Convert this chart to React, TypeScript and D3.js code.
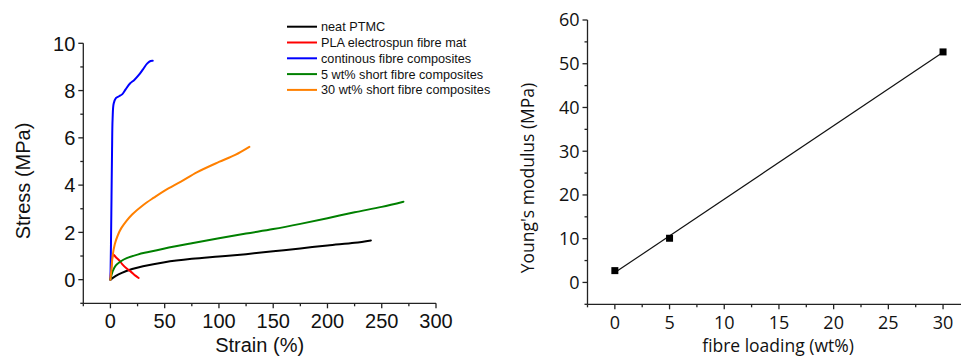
import React from "react";
import * as d3 from "d3";

// stress-strain curves, [strain %, stress MPa]
const neatPTMC = [
  [0, 0], [5, 0.16], [10, 0.28], [20, 0.45], [30, 0.57], [50, 0.74], [75, 0.88],
  [100, 0.98], [125, 1.08], [150, 1.2], [175, 1.32], [200, 1.45], [225, 1.56], [240, 1.66],
];
const plaMat = [
  [0, 0], [1, 0.6], [2, 1.0], [3, 1.05], [5, 0.95], [8, 0.82], [11, 0.65],
  [15, 0.47], [19, 0.33], [23, 0.17], [26, 0.07],
];
const continuous = [
  [0, 0], [0.5, 1.5], [1, 3.5], [1.5, 5.5], [2, 6.8], [3, 7.45], [5, 7.68], [8, 7.76],
  [11, 7.85], [14, 8.05], [18, 8.3], [22, 8.45], [26, 8.65], [30, 8.9], [34, 9.15],
  [37, 9.25], [39, 9.26],
];
const short5 = [
  [0, 0], [2, 0.35], [5, 0.6], [10, 0.79], [15, 0.91], [25, 1.06], [35, 1.17], [50, 1.32],
  [75, 1.54], [100, 1.75], [125, 1.95], [150, 2.14], [175, 2.36], [200, 2.6], [225, 2.85],
  [250, 3.08], [270, 3.3],
];
const short30 = [
  [0, 0], [1, 0.5], [2, 1.0], [4, 1.5], [7, 1.9], [10, 2.18], [15, 2.5], [20, 2.76],
  [30, 3.15], [40, 3.47], [50, 3.77], [65, 4.15], [80, 4.55], [100, 4.98], [115, 5.28],
  [128, 5.62],
];

const seriesNames = [
  "neat PTMC",
  "PLA electrospun fibre mat",
  "continous fibre composites",
  "5 wt% short fibre composites",
  "30 wt% short fibre composites",
];
const seriesColors = ["#000000", "#ff0000", "#0000ff", "#008000", "#ff8000"];
const seriesData = [neatPTMC, plaMat, continuous, short5, short30];

const strainTicks = [0, 50, 100, 150, 200, 250, 300];
const strainMinor = [-25, 25, 75, 125, 175, 225, 275];
const stressTicks = [0, 2, 4, 6, 8, 10];
const stressMinor = [-1, 1, 3, 5, 7, 9];

// modulus vs loading
const loading = [0, 5, 30];
const modulus = [2.7, 10.1, 52.7];
const loadingTicks = [0, 5, 10, 15, 20, 25, 30];
const loadingMinor = [-2.5, 2.5, 7.5, 12.5, 17.5, 22.5, 27.5, 32.5];
const modulusTicks = [0, 10, 20, 30, 40, 50, 60];
const modulusMinor = [-5, 5, 15, 25, 35, 45, 55];

const axisColor = "#222";

export default function App() {
  // left panel
  const x1 = d3.scaleLinear().domain([-25, 300]).range([83.3, 436]);
  const y1 = d3.scaleLinear().domain([-1, 10]).range([303.3, 43.3]);
  const line1 = d3
    .line<number[]>()
    .x((d) => x1(d[0]))
    .y((d) => y1(d[1]))
    .curve(d3.curveCatmullRom.alpha(0.5));

  // right panel
  const x2 = d3.scaleLinear().domain([-2.5, 32.5]).range([587.5, 970.4]);
  const y2 = d3.scaleLinear().domain([-5, 60]).range([304.3, 20]);

  // least squares fit line
  const mx = d3.mean(loading)!;
  const my = d3.mean(modulus)!;
  const sxy = d3.sum(loading, (v, i) => (v - mx) * (modulus[i] - my));
  const sxx = d3.sum(loading, (v) => (v - mx) * (v - mx));
  const slope = sxy / sxx;
  const icpt = my - slope * mx;
  const fit = [0, 30].map((v) => [v, icpt + slope * v]);

  const leftFont = "'Liberation Sans', Arial, sans-serif";
  const rightFont = "'Open Sans', sans-serif";

  return (
    <svg
      width={961}
      height={360}
      style={{ position: "absolute", left: 0, top: 0, background: "#fff" }}
    >
      {/* ---------- left panel ---------- */}
      <g stroke={axisColor} strokeWidth={1.3} fill="none">
        <line x1={x1(-25)} x2={x1(-25)} y1={y1(10)} y2={y1(-1)} />
        <line x1={x1(-25)} x2={x1(300)} y1={y1(-1)} y2={y1(-1)} />
        {stressTicks.map((t) => (
          <line key={"ys" + t} x1={x1(-25) - 5} x2={x1(-25)} y1={y1(t)} y2={y1(t)} />
        ))}
        {stressMinor.map((t) => (
          <line key={"ym" + t} x1={x1(-25) - 3} x2={x1(-25)} y1={y1(t)} y2={y1(t)} />
        ))}
        {strainTicks.map((t) => (
          <line key={"xs" + t} x1={x1(t)} x2={x1(t)} y1={y1(-1)} y2={y1(-1) + 5} />
        ))}
        {strainMinor.map((t) => (
          <line key={"xm" + t} x1={x1(t)} x2={x1(t)} y1={y1(-1)} y2={y1(-1) + 3} />
        ))}
      </g>
      <g fontFamily={leftFont} fontSize={20} fill="#111">
        {stressTicks.map((t) => (
          <text key={t} x={x1(-25) - 8} y={y1(t)} dy="0.36em" textAnchor="end">
            {t}
          </text>
        ))}
        {strainTicks.map((t) => (
          <text key={t} x={x1(t)} y={328} textAnchor="middle">
            {t}
          </text>
        ))}
        <text x={(x1(-25) + x1(300)) / 2} y={352} textAnchor="middle">
          Strain (%)
        </text>
        <text transform="translate(30,181) rotate(-90)" textAnchor="middle">
          Stress (MPa)
        </text>
      </g>
      <g fill="none" strokeWidth={2} strokeLinejoin="round" strokeLinecap="round">
        {seriesData.map((s, i) => (
          <path key={i} d={line1(s) || ""} stroke={seriesColors[i]} />
        ))}
      </g>
      <g fontFamily={leftFont} fontSize={12.7} fill="#111">
        {seriesNames.map((n, i) => (
          <g key={n} transform={`translate(287,${26.7 + i * 15.8})`}>
            <line x1={0} x2={30} y1={0} y2={0} stroke={seriesColors[i]} strokeWidth={2} />
            <text x={34} y={0} dy="0.36em">
              {n}
            </text>
          </g>
        ))}
      </g>

      {/* ---------- right panel ---------- */}
      <g stroke={axisColor} strokeWidth={1.3} fill="none">
        <line x1={x2(-2.5)} x2={x2(-2.5)} y1={y2(60)} y2={y2(-5)} />
        <line x1={x2(-2.5)} x2={x2(32.5)} y1={y2(-5)} y2={y2(-5)} />
        {modulusTicks.map((t) => (
          <line key={"ys" + t} x1={x2(-2.5) - 5} x2={x2(-2.5)} y1={y2(t)} y2={y2(t)} />
        ))}
        {modulusMinor.map((t) => (
          <line key={"ym" + t} x1={x2(-2.5) - 3} x2={x2(-2.5)} y1={y2(t)} y2={y2(t)} />
        ))}
        {loadingTicks.map((t) => (
          <line key={"xs" + t} x1={x2(t)} x2={x2(t)} y1={y2(-5)} y2={y2(-5) + 5} />
        ))}
        {loadingMinor.map((t) => (
          <line key={"xm" + t} x1={x2(t)} x2={x2(t)} y1={y2(-5)} y2={y2(-5) + 3} />
        ))}
      </g>
      <g fontFamily={rightFont} fontSize={18} fill="#111">
        {modulusTicks.map((t) => (
          <text key={t} x={x2(-2.5) - 8} y={y2(t)} dy="0.36em" textAnchor="end">
            {t}
          </text>
        ))}
        {loadingTicks.map((t) => (
          <text key={t} x={x2(t)} y={329} textAnchor="middle">
            {t}
          </text>
        ))}
        <text x={778} y={352} textAnchor="middle" fontSize={17.5}>
          fibre loading (wt%)
        </text>
        <text transform="translate(534,178) rotate(-90)" textAnchor="middle" fontSize={17.5}>
          Young's modulus (MPa)
        </text>
      </g>
      <path
        d={d3.line<number[]>().x((d) => x2(d[0])).y((d) => y2(d[1]))(fit) || ""}
        stroke="#111"
        strokeWidth={1.2}
        fill="none"
      />
      {loading.map((v, i) => (
        <rect
          key={v}
          x={x2(v) - 3.5}
          y={y2(modulus[i]) - 3.5}
          width={7}
          height={7}
          fill="#000"
        />
      ))}
    </svg>
  );
}
